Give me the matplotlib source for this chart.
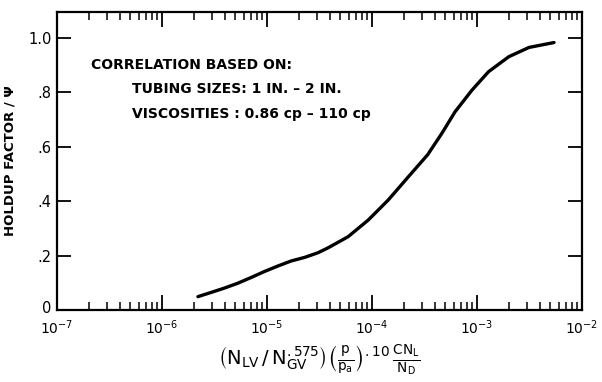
import matplotlib
matplotlib.use("Agg")
from matplotlib import pyplot as plt
from matplotlib.ticker import LogLocator, FixedLocator, NullFormatter
from matplotlib.transforms import ScaledTranslation

plt.rcParams['font.family'] = 'DejaVu Sans'
plt.rcParams['mathtext.fontset'] = 'dejavusans'
plt.rcParams['mathtext.default'] = 'regular'

# holdup factor curve
group_x = [2.20e-6, 2.91e-6, 3.90e-6, 5.25e-6, 7.03e-6, 9.42e-6, 1.26e-5, 1.70e-5,
           2.28e-5, 3.05e-5, 3.81e-5, 5.92e-5, 9.20e-5, 1.43e-4, 2.22e-4, 3.39e-4,
           4.62e-4, 6.19e-4, 8.95e-4, 1.29e-3, 2.01e-3, 3.13e-3, 5.42e-3]
holdup_psi = [0.049, 0.064, 0.080, 0.098, 0.119, 0.141, 0.161, 0.180,
              0.193, 0.210, 0.228, 0.269, 0.330, 0.404, 0.489, 0.570,
              0.648, 0.728, 0.807, 0.875, 0.930, 0.964, 0.982]

y_ticks = [0, 0.2, 0.4, 0.6, 0.8, 1.0]
y_labels = ['0', '.2', '.4', '.6', '.8', '1.0']

notes = ['CORRELATION BASED ON:',
         'TUBING SIZES: 1 IN. \u2013 2 IN.',
         'VISCOSITIES : 0.86 cp \u2013 110 cp']

fig = plt.figure(figsize=(6.02, 3.82), dpi=100)
ax = fig.add_axes([0.0947, 0.1885, 0.872, 0.780])

ax.plot(group_x, holdup_psi, color='black', lw=2.4, solid_capstyle='round')

ax.set_xscale('log')
ax.set_xlim(1e-7, 1e-2)
ax.set_ylim(0, 1.094)

ax.xaxis.set_major_locator(LogLocator(base=10, numticks=10))
ax.xaxis.set_minor_locator(LogLocator(base=10, subs=range(2, 10), numticks=20))
ax.xaxis.set_minor_formatter(NullFormatter())
ax.yaxis.set_major_locator(FixedLocator(y_ticks))
ax.set_yticklabels(y_labels)

ax.tick_params(axis='x', which='major', direction='in', length=11, width=1.3,
               top=True, labelsize=10, pad=6)
ax.tick_params(axis='x', which='minor', direction='in', length=5.5, width=1.1,
               top=True)
ax.tick_params(axis='y', which='major', direction='in', length=10, width=1.3,
               right=True, labelsize=10.5, pad=4)

# nudge the "0" label up a little, as in the original
zero_lbl = ax.yaxis.get_major_ticks()[0].label1
zero_lbl.set_transform(zero_lbl.get_transform() +
                       ScaledTranslation(0, 3 / 100, fig.dpi_scale_trans))

for s in ax.spines.values():
    s.set_linewidth(1.6)

ax.text(0.065, 0.822, notes[0], transform=ax.transAxes, fontsize=10,
        fontweight='bold', va='center')
ax.text(0.142, 0.742, notes[1], transform=ax.transAxes, fontsize=10,
        fontweight='bold', va='center')
ax.text(0.142, 0.658, notes[2], transform=ax.transAxes, fontsize=10,
        fontweight='bold', va='center')

ax.set_ylabel('HOLDUP FACTOR / \u03a8', fontsize=9.5, fontweight='bold', labelpad=8)
ax.set_xlabel(r'$\left(N_{LV}\,/\,N_{GV}^{{.}575}\right)\left(\frac{p}{p_a}\right)^{{.}10}\,\frac{CN_L}{N_D}$',
              fontsize=14, labelpad=4)

fig.savefig('out.png', dpi=100)
